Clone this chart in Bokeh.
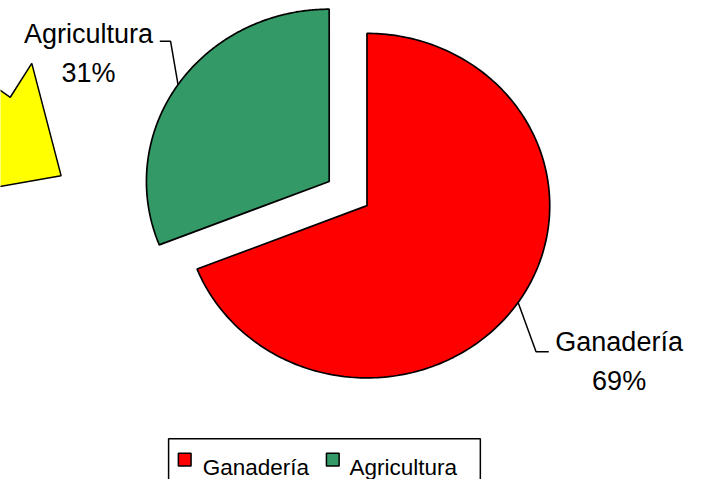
import numpy as np
from bokeh.plotting import figure
from bokeh.models import Range1d
from bokeh.core.properties import value
from bokeh.embed import file_html
from bokeh.resources import INLINE

# ---- data ----
categories = ["Ganadería", "Agricultura"]
shares = [69, 31]
pct_labels = ["69%", "31%"]
colors = ["#FF0000", "#339966"]
explode = [0.0, 0.25]

# ---- layout (reference-pixel data space, 704 x 495) ----
CX, CY = 375.0, 212.0
RX, RY = 187.0, 178.0
FONT = "Liberation Sans"

p = figure(width=688, height=479, output_backend="svg", toolbar_location=None,
           x_range=Range1d(0, 704), y_range=Range1d(495, 0), min_border=0)
p.axis.visible = False
p.grid.visible = False
p.outline_line_color = None
p.background_fill_color = "white"

# decorative yellow clip-art fragment at the left edge
deco_x = [-10, 10, 32, 62, -10]
deco_y = [86, 100, 65, 181, 194]
p.patch(deco_x, deco_y, fill_color="#FFFF00", line_color="black", line_width=1.5)

# ---- pie slices (elliptical, clockwise from 12 o'clock) ----
total = float(sum(shares))
xs, ys, mids, centers = [], [], [], []
cum = 0.0
for share, e in zip(shares, explode):
    t0 = 90.0 - cum / total * 360.0
    t1 = t0 - share / total * 360.0
    cum += share
    mid = np.radians((t0 + t1) / 2.0)
    ox = CX + e * RX * np.cos(mid)
    oy = CY - e * RY * np.sin(mid)
    t = np.radians(np.linspace(t0, t1, 240))
    px = np.concatenate([[ox], ox + RX * np.cos(t), [ox]])
    py = np.concatenate([[oy], oy - RY * np.sin(t), [oy]])
    xs.append(list(px))
    ys.append(list(py))
    mids.append(mid)
    centers.append((ox, oy))

p.patches(xs, ys, fill_color=colors, line_color="black", line_width=1.7)

# ---- data labels with leader lines ----
label_xy = [(633, 353), (90, 35)]          # category text positions (center, baseline)
elbow = [(548, 363), (174, 42)]            # leader elbow points
tail = [(561, 363), (163, 42)]             # leader end points
LINE_GAP = 40
for i in range(len(categories)):
    ox, oy = centers[i]
    sx = ox + RX * np.cos(mids[i])
    sy = oy - RY * np.sin(mids[i])
    p.line([sx, elbow[i][0], tail[i][0]], [sy, elbow[i][1], tail[i][1]],
           line_color="black", line_width=1.5)
    lx, ly = label_xy[i]
    p.text(x=[lx, lx], y=[ly, ly + LINE_GAP], text=[categories[i], pct_labels[i]],
           text_align="center", text_baseline="alphabetic",
           text_font=value(FONT), text_font_size="27px", text_color="black")

# ---- legend (drawn) ----
LEG_Y = 453
leg_left, leg_right = 172, 491
p.quad(left=[leg_left], right=[leg_right], top=[LEG_Y], bottom=[LEG_Y + 60],
       fill_color="white", line_color="black", line_width=1.5)
sq_x = [188.5, 340.0]
txt_x = [207, 357]
p.rect(x=sq_x, y=[LEG_Y + 21.5] * 2, width=13, height=13,
       fill_color=colors, line_color="black", line_width=1.5)
p.text(x=txt_x, y=[LEG_Y + 30] * 2, text=categories, text_align="left",
       text_baseline="alphabetic", text_font=value(FONT),
       text_font_size="22.5px", text_color="black")

open("out.html", "w").write(file_html(p, INLINE))
